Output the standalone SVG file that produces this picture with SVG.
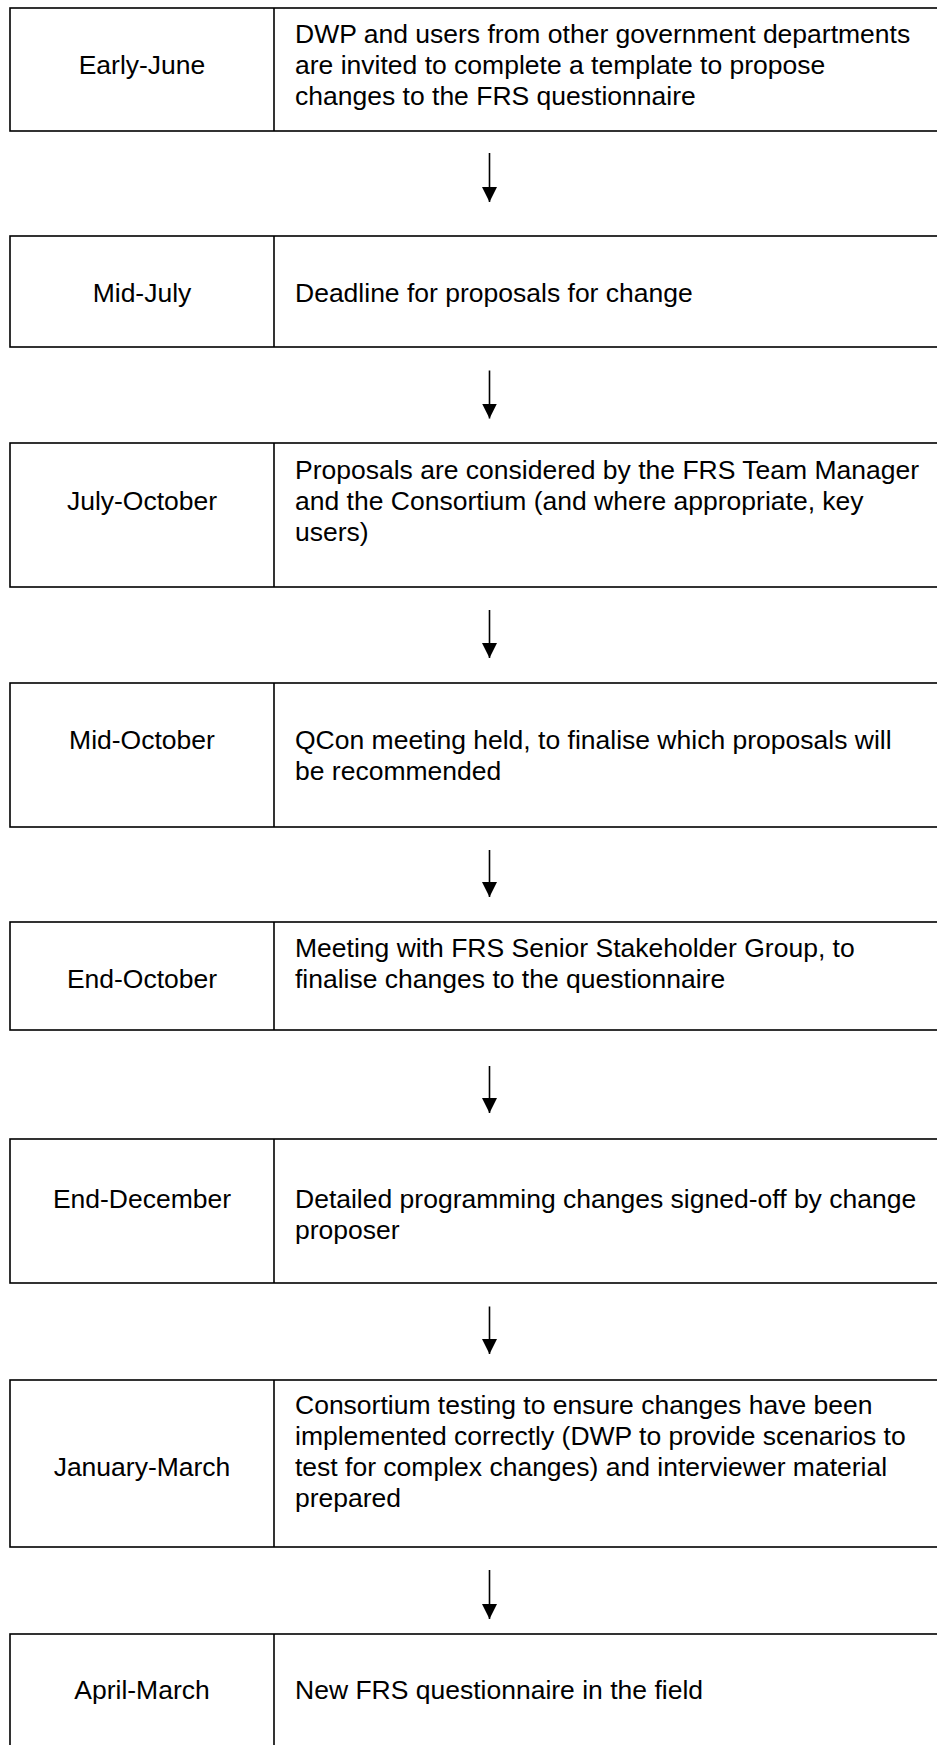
<svg xmlns="http://www.w3.org/2000/svg" width="937" height="1745" viewBox="0 0 937 1745">
<style>
.box{fill:#fff;stroke:#000;stroke-width:1.6}
.div{stroke:#000;stroke-width:1.6}
.t{font-family:"Liberation Sans",Arial,sans-serif;font-size:26.5px;fill:#000}
.lbl{text-anchor:middle}
.conn line{stroke:#000;stroke-width:1.6}
</style>
<defs>
<marker id="ah" markerWidth="15" markerHeight="15" viewBox="0 0 15 15" refX="15" refY="7.5" orient="auto" markerUnits="userSpaceOnUse">
<path d="M0,0 L15,7.5 L0,15 Z" fill="#000"/>
</marker>
</defs>
<rect width="937" height="1745" fill="#fff"/>

<g id="n1">
<rect class="box" x="10" y="8" width="940" height="123"/>
<line class="div" x1="274" y1="8" x2="274" y2="131"/>
<text class="t lbl" x="142" y="74">Early-June</text>
<text class="t" x="295" y="43">DWP and users from other government departments</text>
<text class="t" x="295" y="74">are invited to complete a template to propose</text>
<text class="t" x="295" y="105">changes to the FRS questionnaire</text>
</g>

<g id="n2">
<rect class="box" x="10" y="236" width="940" height="111"/>
<line class="div" x1="274" y1="236" x2="274" y2="347"/>
<text class="t lbl" x="142" y="302">Mid-July</text>
<text class="t" x="295" y="302">Deadline for proposals for change</text>
</g>

<g id="n3">
<rect class="box" x="10" y="443" width="940" height="144"/>
<line class="div" x1="274" y1="443" x2="274" y2="587"/>
<text class="t lbl" x="142" y="510">July-October</text>
<text class="t" x="295" y="479">Proposals are considered by the FRS Team Manager</text>
<text class="t" x="295" y="510">and the Consortium (and where appropriate, key</text>
<text class="t" x="295" y="541">users)</text>
</g>

<g id="n4">
<rect class="box" x="10" y="683" width="940" height="144"/>
<line class="div" x1="274" y1="683" x2="274" y2="827"/>
<text class="t lbl" x="142" y="749">Mid-October</text>
<text class="t" x="295" y="749">QCon meeting held, to finalise which proposals will</text>
<text class="t" x="295" y="780">be recommended</text>
</g>

<g id="n5">
<rect class="box" x="10" y="922" width="940" height="108"/>
<line class="div" x1="274" y1="922" x2="274" y2="1030"/>
<text class="t lbl" x="142" y="988">End-October</text>
<text class="t" x="295" y="957">Meeting with FRS Senior Stakeholder Group, to</text>
<text class="t" x="295" y="988">finalise changes to the questionnaire</text>
</g>

<g id="n6">
<rect class="box" x="10" y="1139" width="940" height="144"/>
<line class="div" x1="274" y1="1139" x2="274" y2="1283"/>
<text class="t lbl" x="142" y="1208">End-December</text>
<text class="t" x="295" y="1208">Detailed programming changes signed-off by change</text>
<text class="t" x="295" y="1239">proposer</text>
</g>

<g id="n7">
<rect class="box" x="10" y="1380" width="940" height="167"/>
<line class="div" x1="274" y1="1380" x2="274" y2="1547"/>
<text class="t lbl" x="142" y="1476">January-March</text>
<text class="t" x="295" y="1414">Consortium testing to ensure changes have been</text>
<text class="t" x="295" y="1445">implemented correctly (DWP to provide scenarios to</text>
<text class="t" x="295" y="1476">test for complex changes) and interviewer material</text>
<text class="t" x="295" y="1507">prepared</text>
</g>

<g id="n8">
<rect class="box" x="10" y="1634" width="940" height="130"/>
<line class="div" x1="274" y1="1634" x2="274" y2="1764"/>
<text class="t lbl" x="142" y="1699">April-March</text>
<text class="t" x="295" y="1699">New FRS questionnaire in the field</text>
</g>

<g id="connectors" class="conn">
<line x1="489.5" y1="153" x2="489.5" y2="202" marker-end="url(#ah)"/>
<line x1="489.5" y1="370.5" x2="489.5" y2="418.5" marker-end="url(#ah)"/>
<line x1="489.5" y1="610" x2="489.5" y2="658" marker-end="url(#ah)"/>
<line x1="489.5" y1="850" x2="489.5" y2="897" marker-end="url(#ah)"/>
<line x1="489.5" y1="1066" x2="489.5" y2="1113" marker-end="url(#ah)"/>
<line x1="489.5" y1="1306.5" x2="489.5" y2="1354" marker-end="url(#ah)"/>
<line x1="489.5" y1="1570" x2="489.5" y2="1619" marker-end="url(#ah)"/>
</g>
</svg>
